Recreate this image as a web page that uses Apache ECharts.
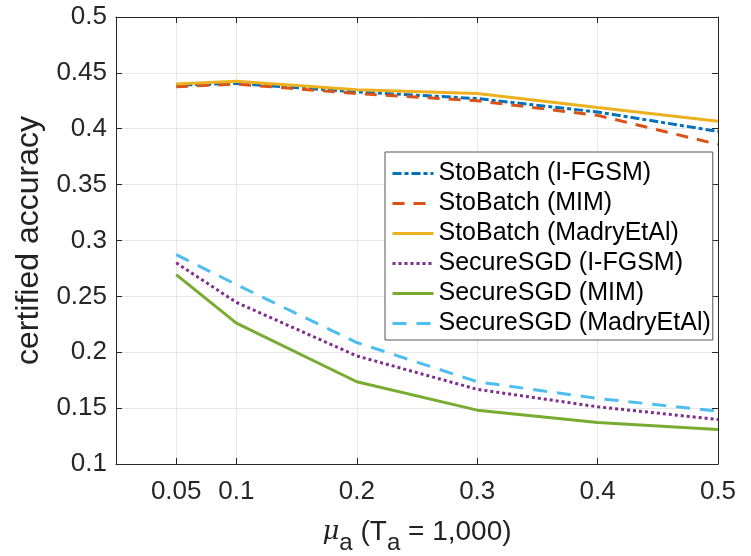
<!DOCTYPE html>
<html>
<head>
<meta charset="utf-8">
<script src="https://cdn.jsdelivr.net/npm/echarts@6/dist/echarts.min.js"></script>
<style>
  html, body { margin: 0; padding: 0; background: #fff; }
  #chart { width: 751px; height: 556px; }
</style>
</head>
<body>
<div id="chart"></div>
<script>
// x values (mu_a) and tick labels
var muValues = [0.05, 0.1, 0.2, 0.3, 0.4, 0.5];
var xTicks = [0.05, 0.1, 0.2, 0.3, 0.4, 0.5];

// certified accuracy per method
var stoIFGSM = [0.439, 0.4405, 0.433, 0.427, 0.415, 0.3976];
var stoMIM = [0.4375, 0.440, 0.4315, 0.425, 0.412, 0.386];
var stoMadry = [0.440, 0.4425, 0.435, 0.4315, 0.419, 0.4068];
var secIFGSM = [0.280, 0.2446, 0.1967, 0.1668, 0.1512, 0.1398];
var secMIM = [0.2695, 0.226, 0.1736, 0.1482, 0.1371, 0.1308];
var secMadry = [0.2874, 0.2605, 0.2087, 0.1736, 0.1587, 0.1473];

var names = ['StoBatch (I-FGSM)', 'StoBatch (MIM)', 'StoBatch (MadryEtAl)',
    'SecureSGD (I-FGSM)', 'SecureSGD (MIM)', 'SecureSGD (MadryEtAl)'];

var font = 'Liberation Sans, Arial, Helvetica, sans-serif';

function pairs(ys) {
    return muValues.map(function (x, i) { return [x, ys[i]]; });
}

function makeSeries(name, ys, color, dash, width) {
    return {
        name: name,
        type: 'line',
        data: pairs(ys),
        symbol: 'none',
        smooth: false,
        lineStyle: { color: color, width: width || 3, type: dash },
        itemStyle: { color: color },
        z: 3
    };
}

var chart = echarts.init(document.getElementById('chart'));

var option = {
    animation: false,
    backgroundColor: '#fff',
    textStyle: { fontFamily: font },
    grid: { left: 116, right: 33, top: 17, bottom: 92, containLabel: false, outerBoundsMode: 'none' },
    legend: {
        orient: 'vertical',
        left: 385,
        top: 152,
        backgroundColor: '#fff',
        borderColor: '#555',
        borderWidth: 1,
        padding: [9, 2, 4, 6],
        itemWidth: 41,
        itemHeight: 14,
        itemGap: 5,
        itemStyle: { opacity: 0 },
        lineStyle: { width: 3 },
        data: names,
        textStyle: { fontSize: 25, lineHeight: 25, color: '#000', fontFamily: font }
    },
    xAxis: [{
        type: 'value',
        min: 0,
        max: 0.5,
        name: '{mu|μ}{sub|a} (T{sub|a} = 1,000)',
        nameLocation: 'middle',
        nameGap: 45,
        nameTextStyle: {
            fontSize: 28,
            color: '#222',
            fontFamily: font,
            rich: {
                mu: { fontSize: 26, fontStyle: 'italic', fontFamily: 'DejaVu Serif', color: '#222' },
                sub: { fontSize: 24, color: '#222', fontFamily: font, padding: [22, 0, 0, 0] }
            }
        },
        axisLine: { show: true, onZero: false, lineStyle: { color: '#262626', width: 1 } },
        axisTick: { show: true, inside: true, length: 6, customValues: xTicks, lineStyle: { color: '#262626' } },
        axisLabel: {
            customValues: xTicks,
            fontSize: 26,
            color: '#262626',
            margin: 15,
            formatter: function (v) { return String(+v.toFixed(2)); }
        },
        splitLine: { show: true, lineStyle: { color: '#e8e8e8', width: 1 } }
    }, {
        type: 'value',
        position: 'top',
        min: 0,
        max: 0.5,
        axisLine: { show: true, onZero: false, lineStyle: { color: '#262626', width: 1 } },
        axisTick: { show: true, inside: true, length: 6, customValues: xTicks, lineStyle: { color: '#262626' } },
        axisLabel: { show: false },
        splitLine: { show: false }
    }],
    yAxis: [{
        type: 'value',
        min: 0.1,
        max: 0.5,
        interval: 0.05,
        name: 'certified accuracy',
        nameLocation: 'middle',
        nameRotate: 90,
        nameGap: 70,
        nameTextStyle: { fontSize: 32, color: '#222', fontFamily: font },
        axisLine: { show: true, onZero: false, lineStyle: { color: '#262626', width: 1 } },
        axisTick: { show: true, inside: true, length: 6, lineStyle: { color: '#262626' } },
        axisLabel: {
            fontSize: 26,
            color: '#262626',
            margin: 9,
            formatter: function (v) { return String(+v.toFixed(2)); }
        },
        splitLine: { show: true, lineStyle: { color: '#e8e8e8', width: 1 } }
    }, {
        type: 'value',
        position: 'right',
        min: 0.1,
        max: 0.5,
        interval: 0.05,
        axisLine: { show: true, onZero: false, lineStyle: { color: '#262626', width: 1 } },
        axisTick: { show: true, inside: true, length: 6, lineStyle: { color: '#262626' } },
        axisLabel: { show: false },
        splitLine: { show: false }
    }],
    series: [
        makeSeries(names[0], stoIFGSM, '#0072BD', [9, 3, 4, 3]),
        makeSeries(names[1], stoMIM, '#D95319', [12, 9]),
        makeSeries(names[2], stoMadry, '#EDB120', 'solid'),
        makeSeries(names[3], secIFGSM, '#7E2F8E', [3, 3]),
        makeSeries(names[4], secMIM, '#77AC30', 'solid'),
        makeSeries(names[5], secMadry, '#4DBEEE', [14, 10])
    ]
};

chart.setOption(option);
</script>
</body>
</html>
